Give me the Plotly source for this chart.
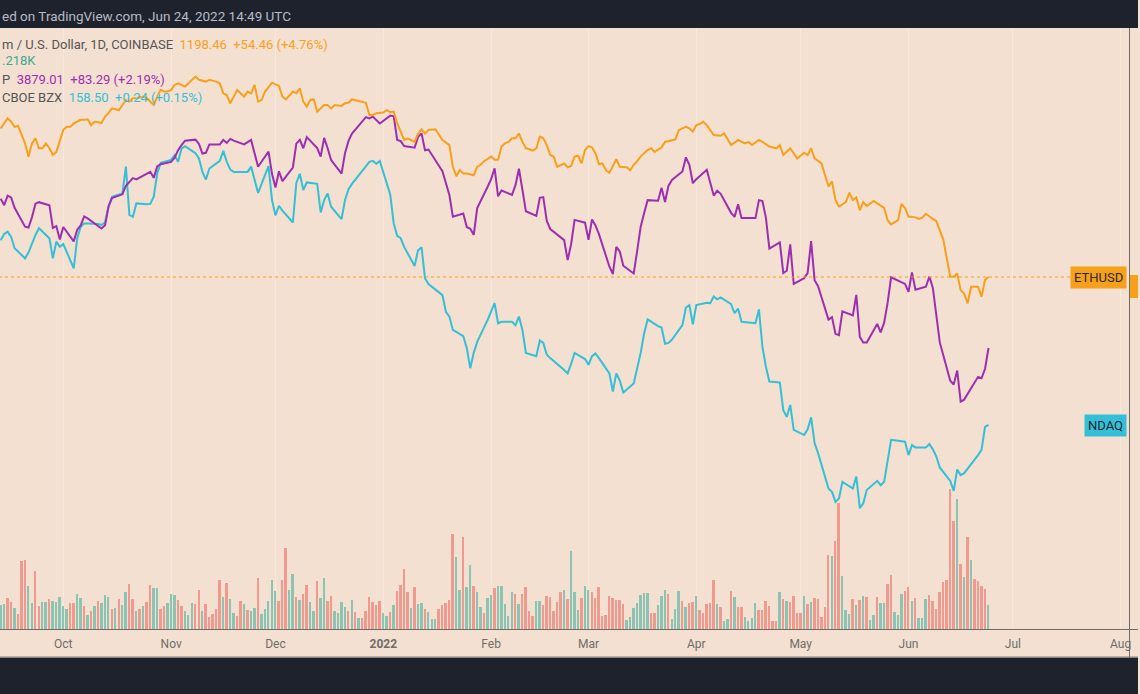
import plotly.graph_objects as go
import pandas as pd

# TradingView-like palette
COLORS = {
    'bg': '#f3e0d0',
    'dark': '#1e222d',
    'eth': '#f7a01c',
    'spx': '#9c2fb0',
    'ndaq': '#35bfd6',
    'vol_up': '#8cc4b4',
    'vol_down': '#f0998f',
    'axis': '#6e6c6a',
    'tick': '#6f6d6b',
    'grid': '#f6e8dc',
}

W, H = 1140, 694


def px_x(x):
    return x / W


def px_y(y):
    return 1 - y / H


# ---- data ----
BASE_DAY = "2021-09-13"

# ETH/USD daily close, day offset from BASE_DAY
eth_day = [0, 2, 3, 4, 5, 6, 7, 8, 9, 10, 11, 12, 13, 14, 15, 16, 17, 18, 19, 20, 21, 23, 24, 25, 26, 27,
           29, 30, 31, 32, 33, 34, 35, 36, 37, 38, 39, 41, 42, 44, 45, 46, 47, 48, 49, 50, 51, 52, 53, 54,
           56, 57, 59, 60, 62, 63, 64, 65, 66, 67, 68, 70, 71, 72, 73, 74, 75, 76, 78, 80, 81, 82, 84, 85,
           86, 87, 88, 89, 90, 91, 93, 94, 95, 96, 98, 99, 100, 101, 103, 104, 105, 106, 107, 108, 110, 111,
           112, 113, 114, 115, 116, 117, 119, 120, 121, 122, 123, 125, 126, 127, 129, 130, 131, 132, 133, 134,
           136, 137, 138, 139, 141, 142, 143, 144, 145, 146, 147, 148, 149, 150, 151, 152, 153, 154, 155, 156,
           157, 158, 159, 160, 162, 163, 164, 165, 166, 167, 168, 169, 170, 171, 172, 173, 174, 175, 177, 178,
           180, 181, 182, 183, 184, 186, 187, 188, 190, 191, 193, 194, 195, 197, 198, 199, 200, 201, 202, 203,
           205, 206, 207, 208, 210, 211, 212, 214, 215, 216, 218, 219, 221, 223, 224, 225, 227, 229, 231, 232,
           233, 234, 236, 237, 238, 239, 240, 241, 243, 244, 245, 246, 247, 248, 249, 251, 253, 254, 255, 256,
           258, 259, 260, 261, 263, 264, 265, 266, 268, 269, 271, 272, 273, 274, 275, 276, 277, 278, 279, 280,
           281, 282, 283, 284]
eth_close = [3325, 3565, 3480, 3360, 3380, 3175, 3000, 2738, 3000, 3105, 2900, 2900, 3000, 2900, 2770, 2830,
             3030, 3290, 3360, 3360, 3440, 3525, 3525, 3540, 3400, 3480,
             3455, 3605, 3690, 3815, 3790, 3770, 3905, 4040, 3995, 4090, 4090, 4135, 4090, 3905, 4135, 4330,
             4280, 4280, 4330, 4480, 4530, 4480, 4430, 4530,
             4745, 4640, 4585, 4640, 4585, 4530, 4230, 4180, 3950, 4135, 4330, 4135, 4280, 4230, 4480, 3995,
             4040, 4280, 4550, 4450, 4135, 4055, 4280, 4230,
             4380, 3995, 3860, 4040, 4055, 3730, 3905, 3905, 3815, 3905, 3880, 3950, 3965, 4055, 4005, 3995,
             3965, 3645, 3645, 3690, 3705, 3770,
             3715, 3730, 3440, 3250, 3070, 3105, 3030, 3210, 3305, 3210, 3290, 3305, 3175, 3070, 2965, 2555,
             2395, 2495, 2440, 2440,
             2410, 2555, 2590, 2655, 2740, 2680, 2680, 2935, 3000, 3030, 3105, 3105, 3210, 3030, 2900, 2880,
             2855, 2900, 3140, 3105,
             2965, 2770, 2740, 2555, 2615, 2545, 2570, 2740, 2755, 2615, 2865, 2945, 2920, 2805, 2600, 2615,
             2495, 2450, 2690, 2555,
             2545, 2495, 2590, 2655, 2740, 2865, 2900, 2830, 2920, 3030, 3070, 3085, 3290, 3360, 3325, 3250,
             3400, 3425, 3480, 3400,
             3175, 3175, 3160, 3210, 2965, 3015, 3070, 3000, 3030, 2965, 3070, 3030, 2935, 2900, 2965, 2770,
             2900, 2705, 2815, 2770,
             2900, 2705, 2615, 2410, 2230, 2310, 2035, 1945, 2005, 2140, 2035, 2070, 1895, 2005, 1950, 2020,
             1950, 1925, 1770, 1720,
             1770, 1980, 1925, 1815, 1805, 1785, 1800, 1850, 1785, 1760, 1550, 1345, 1200, 1200, 1228, 1095,
             1070, 1000, 1120, 1120,
             1120, 1047, 1175, 1198.46]

# US market holidays inside the window (for SPX / NDAQ sessions)
market_holidays = ["2021-11-25", "2021-12-24", "2022-01-17", "2022-02-21",
                   "2022-04-15", "2022-05-30", "2022-06-20"]

spx_close = [
    4469, 4443, 4481, 4474, 4433, 4358, 4355, 4396, 4449, 4455, 4443, 4353, 4360, 4308,
    4357, 4300, 4346, 4363, 4399, 4391, 4361, 4351, 4364, 4438, 4471, 4486, 4520, 4537, 4550, 4545,
    4567, 4575, 4551, 4596, 4605,
    4614, 4631, 4660, 4680, 4698, 4702, 4685, 4647, 4650, 4683, 4683, 4701, 4689, 4705, 4698, 4683,
    4691, 4701, 4595, 4655, 4567,
    4513, 4577, 4538, 4592, 4686, 4701, 4668, 4712, 4669, 4635, 4709, 4668, 4621, 4568, 4649, 4697,
    4726, 4791, 4786, 4793, 4778, 4766,
    4797, 4794, 4701, 4696, 4677, 4670, 4713, 4726, 4660, 4663, 4577, 4533, 4483, 4398, 4410, 4357,
    4350, 4326, 4432, 4516,
    4546, 4589, 4478, 4501, 4484, 4522, 4587, 4504, 4419, 4401, 4472, 4475, 4381, 4349, 4305, 4226,
    4289, 4385, 4374,
    4306, 4387, 4363, 4329, 4201, 4171, 4278, 4260, 4204, 4173, 4263, 4358, 4412, 4463, 4461, 4512,
    4456, 4520, 4543, 4576, 4632, 4603, 4530,
    4546, 4583, 4526, 4481, 4500, 4488, 4413, 4397, 4447, 4392, 4392, 4463, 4459, 4394, 4272, 4296,
    4175, 4184, 4288, 4132,
    4155, 4175, 4301, 4147, 4123, 3991, 4001, 3935, 3930, 4024, 4008, 4089, 3923, 3901, 3901, 3974,
    3941, 3979, 4058, 4158, 4132,
    4101, 4177, 4109, 4121, 4161, 4116, 4018, 3901, 3750, 3735, 3790, 3667, 3675, 3765, 3760, 3796,
    3879.01]

ndaq_close = [
    197.2, 198.5, 199.0, 197.9, 195.5, 193.4, 194.6, 196.5, 198.3, 199.7, 197.6, 193.4, 196.9, 195.8,
    196.4, 191.3, 197.6, 200.0, 200.7, 200.7, 200.6, 200.4, 200.9, 204.2, 206.3, 207.0, 212.6, 202.5,
    202.1, 204.9, 204.7, 204.8, 206.3, 211.2, 213.4,
    214.0, 215.0, 213.6, 216.4, 216.9, 215.4, 214.3, 211.5, 209.9, 212.2, 213.8, 215.9, 213.6, 212.0,
    211.5, 211.5, 211.5, 212.6, 207.1, 212.7, 205.6,
    202.4, 204.4, 203.4, 200.9, 209.2, 211.1, 207.7, 209.3, 209.0, 203.0, 205.6, 207.0, 204.2, 201.6,
    205.6, 207.9, 209.0, 212.7, 213.6, 213.8, 213.2, 213.8,
    206.7, 200.7, 198.1, 197.6, 195.8, 191.8, 195.1, 195.7, 189.2, 188.0, 185.7, 182.2, 181.2, 178.4,
    177.1, 174.6, 170.4, 173.6, 175.9, 180.5,
    182.2, 184.0, 179.8, 180.1, 180.1, 179.4, 181.2, 178.4, 173.6, 172.9, 176.2, 175.7, 173.2, 172.5,
    170.0, 169.3, 171.3, 173.6, 172.3,
    171.1, 172.9, 173.5, 172.5, 169.3, 165.5, 169.3, 167.8, 165.3, 167.2, 170.4, 173.6, 177.7, 180.6,
    179.2, 178.9, 175.5, 175.7, 176.4, 179.4, 183.1, 183.6, 179.6,
    183.6, 184.1, 184.0, 185.4, 184.8, 185.2, 183.8, 181.9, 182.9, 180.1, 179.8, 182.7, 174.9, 170.7,
    167.6, 167.4, 161.6, 160.2, 162.7, 157.5,
    156.4, 157.6, 160.1, 154.7, 152.6, 145.2, 144.5, 142.4, 143.1, 146.6, 145.2, 147.7, 141.1, 142.1,
    144.9, 146.8, 145.9, 146.6, 151.2, 155.4, 155.0,
    152.2, 154.3, 153.8, 153.8, 154.5, 153.4, 151.9, 149.6, 146.8, 144.7, 149.2, 148.0, 148.4, 152.2,
    153.3, 158.1, 158.5]

# daily ETH volume (K), one bar per day from BASE_DAY; G = up day, R = down day
vol_k = [
    292, 300, 372, 320, 248, 180, 820, 832, 516, 316, 692, 276, 324, 320, 356, 340, 324, 388, 280, 240,
    308, 308, 420, 372, 276, 172, 216, 272, 336, 308, 412, 388, 244, 256, 364, 288, 448, 544, 360, 212,
    240, 280, 320, 528, 492, 492, 236, 280, 316, 416, 412, 348, 272, 212, 164, 312, 296, 472, 220, 304,
    148, 180, 240, 584, 380, 552, 364, 188, 160, 336, 300, 232, 220, 252, 616, 176, 240, 332, 592, 460,
    332, 588, 972, 472, 660, 380, 352, 420, 524, 320, 212, 580, 376, 608, 340, 396, 220, 192, 328, 268,
    212, 352, 208, 136, 128, 212, 388, 328, 292, 332, 188, 160, 204, 284, 460, 528, 716, 440, 256, 500,
    300, 316, 244, 208, 120, 120, 244, 284, 308, 352, 1140, 868, 472, 1100, 508, 772, 516, 440, 268, 196,
    368, 408, 488, 516,
    520, 300, 160, 440, 416, 300, 424, 508, 212, 160, 340, 340, 292, 400, 380, 220, 320, 448, 468, 360,
    940, 440, 228, 368, 516, 468, 440, 368, 504, 152, 164, 400, 368, 352, 348, 300, 108, 148, 256, 308,
    412, 432, 432, 192, 192, 288, 400, 472, 420, 120, 240, 456, 340, 260, 308, 328, 400, 228, 192, 300,
    308, 592, 304, 260, 100, 124, 452, 388, 260, 260, 148, 100, 132, 316, 232, 228, 332, 272, 100, 100,
    440, 364, 332, 320, 392, 196, 196, 396, 300, 324, 372, 360, 148, 260, 892, 876, 1060, 1508, 640, 228,
    180, 364, 292, 348, 392, 380, 108, 164, 388, 316, 316, 540, 644, 208, 164, 416, 460, 500, 340, 368,
    136, 132, 360, 408, 332, 240, 448, 560, 588, 1680, 1292, 1560, 780, 620, 1100, 828, 600, 580, 520, 480,
    292]
vol_dir = ("GGRRGRRRGG" "RRGGRGGGGG" "RRGGRGRGRG" "GGRGRGGRRG" "RGRRGGRRGG" "GRRGGGRRGR"
           "RRRRGRGGRR" "GRGGRGGGGG" "RRRGGRGRRG" "GRGGRRGGGG" "RGRGRRRRRR" "GGRGRRRRGR"
           "GGRGGGRRRR" "RGGRGGRGGR" "GGRG"
           "GGGGRGRRRR" "GGRRRRRRGR" "GGGRGGRRRR" "RRRRRRGGGG" "GGGRRGGGRG" "GGRGRRGRRR"
           "RRGRGGRGRR" "GGGGRRRRRR" "GRGRRRRGRG" "RRRRRGRRGG" "GRGRGRGGRG" "GRRGGGRRGR"
           "GGGRRRRRRR" "RGRGRGRRRR" "G")

month_ticks = ["2021-10-01", "2021-11-01", "2021-12-01", "2022-01-01", "2022-02-01", "2022-03-01",
               "2022-04-01", "2022-05-01", "2022-06-01", "2022-07-01", "2022-08-01"]
month_labels = ["Oct", "Nov", "Dec", "<b>2022</b>", "Feb", "Mar", "Apr", "May", "Jun", "Jul", "Aug"]

# ---- build ----
base = pd.Timestamp(BASE_DAY)
eth_dates = base + pd.to_timedelta(eth_day, unit="D")
sessions = pd.bdate_range(BASE_DAY, "2022-06-24", freq="C", holidays=market_holidays)
vol_dates = pd.date_range(BASE_DAY, periods=len(vol_k), freq="D")
vol_colors = [COLORS['vol_up'] if d == "G" else COLORS['vol_down'] for d in vol_dir]

fig = go.Figure()

fig.add_trace(go.Bar(x=vol_dates, y=vol_k, marker_color=vol_colors, marker_line_width=0,
                     width=0.55 * 86400000, yaxis="y", name="Volume"))
fig.add_trace(go.Scatter(x=sessions, y=ndaq_close, mode="lines", yaxis="y2", name="NDAQ",
                         line=dict(color=COLORS['ndaq'], width=2)))
fig.add_trace(go.Scatter(x=sessions, y=spx_close, mode="lines", yaxis="y3", name="SPX",
                         line=dict(color=COLORS['spx'], width=2)))
# last-price guide for ETH
fig.add_trace(go.Scatter(x=["2021-09-12 12:00", "2022-07-17 12:00"], y=[eth_close[-1]] * 2,
                         mode="lines", yaxis="y4", name="last",
                         line=dict(color=COLORS['eth'], width=1, dash="dot")))
fig.add_trace(go.Scatter(x=eth_dates, y=eth_close, mode="lines", yaxis="y4", name="ETHUSD",
                         line=dict(color=COLORS['eth'], width=2)))

y_dom = [px_y(629), px_y(28)]
hidden = dict(domain=y_dom, showticklabels=False, showgrid=False, zeroline=False,
              showline=False, ticks="")

fig.update_layout(
    width=W, height=H,
    margin=dict(l=0, r=0, t=0, b=0),
    paper_bgcolor=COLORS['bg'],
    plot_bgcolor=COLORS['bg'],
    showlegend=False,
    font=dict(family="Roboto, Liberation Sans, sans-serif", color=COLORS['tick']),
    bargap=0,
    xaxis=dict(type="date", domain=[0, px_x(1131)],
               range=["2021-09-12 19:12", "2022-08-03 09:36"],
               tickvals=month_ticks, ticktext=month_labels, ticks="",
               tickfont=dict(size=12, color=COLORS['tick']), ticklabelstandoff=6,
               showgrid=True, gridcolor=COLORS['grid'], gridwidth=1,
               zeroline=False, showline=False),
    yaxis=dict(range=[0, 7212], **hidden),
    yaxis2=dict(overlaying="y", range=[115.78, 241.63], **hidden),
    yaxis3=dict(overlaying="y", range=[2769, 5143], **hidden),
    yaxis4=dict(overlaying="y", type="log", range=[2.02903, 3.82109], **hidden),
)

shapes = [
    # top bar and bottom band
    dict(type="rect", xref="paper", yref="paper", x0=0, x1=1, y0=px_y(28), y1=1,
         fillcolor=COLORS['dark'], line_width=0, layer="above"),
    dict(type="rect", xref="paper", yref="paper", x0=0, x1=1, y0=0, y1=px_y(657.5),
         fillcolor=COLORS['dark'], line_width=0, layer="above"),
    # axis borders
    dict(type="line", xref="paper", yref="paper", x0=px_x(1131.5), x1=px_x(1131.5),
         y0=px_y(28), y1=px_y(658), line=dict(color=COLORS['axis'], width=1), layer="above"),
    dict(type="line", xref="paper", yref="paper", x0=0, x1=1, y0=px_y(629.5), y1=px_y(629.5),
         line=dict(color=COLORS['axis'], width=1), layer="above"),
    dict(type="line", xref="paper", yref="paper", x0=0, x1=1, y0=px_y(657), y1=px_y(657),
         line=dict(color="#8a8580", width=1), layer="above"),
    # clipped price-scale tag for ETH
    dict(type="rect", xref="paper", yref="paper", x0=px_x(1132), x1=1, y0=px_y(298), y1=px_y(275),
         fillcolor=COLORS['eth'], line_width=0, layer="above"),
]
fig.update_layout(shapes=shapes)

sp = "&nbsp;&nbsp;"
annotations = [
    dict(text="ed on TradingView.com, Jun 24, 2022 14:49 UTC", x=px_x(0), y=px_y(16),
         font=dict(size=13.5, color="#b8bbc4")),
    dict(text=f"<span style='color:#555555'>m / U.S. Dollar, 1D, COINBASE</span>{sp}"
              f"<span style='color:{COLORS['eth']}'>1198.46{sp}+54.46 (+4.76%)</span>",
         x=px_x(0), y=px_y(44), font=dict(size=13)),
    dict(text="<span style='color:#3fa98f'>.218K</span>", x=px_x(0), y=px_y(61), font=dict(size=13)),
    dict(text=f"<span style='color:#555555'>P</span>{sp}"
              f"<span style='color:{COLORS['spx']}'>3879.01{sp}+83.29 (+2.19%)</span>",
         x=px_x(0), y=px_y(79), font=dict(size=13)),
    dict(text=f"<span style='color:#555555'>CBOE BZX</span>{sp}"
              f"<span style='color:{COLORS['ndaq']}'>158.50{sp}+0.24 (+0.15%)</span>",
         x=px_x(0), y=px_y(97), font=dict(size=13)),
    dict(text="ETHUSD", x=px_x(1129), y=px_y(277), xanchor="right",
         bgcolor=COLORS['eth'], borderpad=3, font=dict(size=13, color="#2a2a2a")),
    dict(text="NDAQ", x=px_x(1129), y=px_y(425.5), xanchor="right",
         bgcolor=COLORS['ndaq'], borderpad=3, font=dict(size=13, color="#1d2a30")),
]
for a in annotations:
    a.setdefault("xanchor", "left")
    a.update(xref="paper", yref="paper", yanchor="middle", showarrow=False)
fig.update_layout(annotations=annotations)

# the page is exactly figure-sized: drop the default body margin
fig.write_html("out.html", config={"displayModeBar": False},
               post_script="document.body.style.margin='0';document.body.style.overflow='hidden';")
